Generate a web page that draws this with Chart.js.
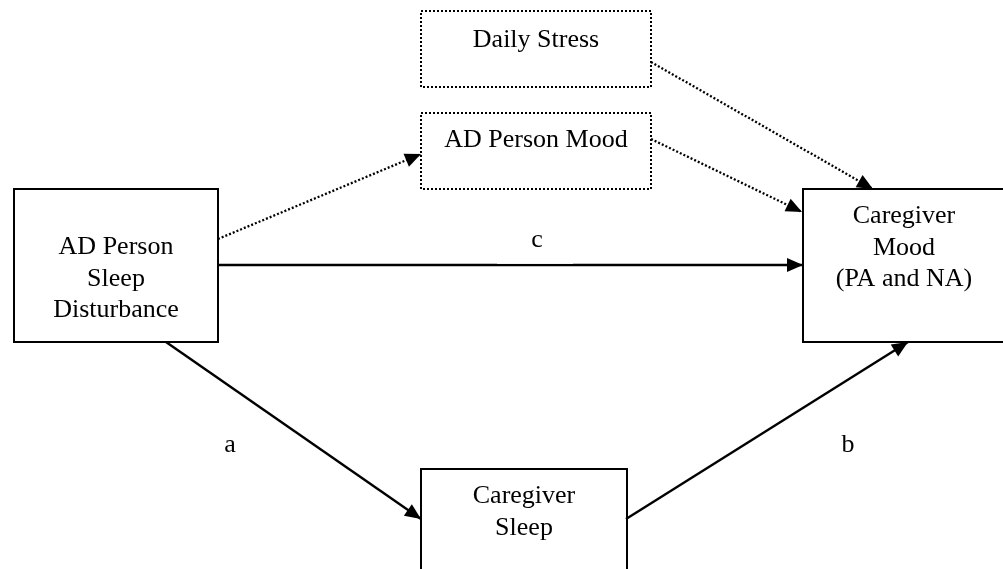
<!DOCTYPE html>
<html>
<head>
<meta charset="utf-8">
<script src="https://cdn.jsdelivr.net/npm/chart.js@4"></script>
<style>
  html, body { margin: 0; padding: 0; background: #fff; }
  #wrap { width: 1003px; height: 569px; position: relative; }
</style>
</head>
<body>
<div id="wrap"><canvas id="diagram"></canvas></div>
<script>
// nodes of the path diagram (page units = pixels of the original figure)
const nodeLines = [
  ["Daily Stress"],
  ["AD Person Mood"],
  ["AD Person", "Sleep", "Disturbance"],
  ["Caregiver", "Mood", "(PA and NA)"],
  ["Caregiver", "Sleep"],
];
const nodeLeft = [421, 421, 14, 803, 421];
const nodeTop = [11, 113, 189, 189, 469];
const nodeRight = [651, 651, 218, 1005, 627];
const nodeBottom = [87, 189, 342, 342, 600];
const nodeTextY = [47, 147, 254, 223, 503];
const nodeDotted = [true, true, false, false, false];

// paths between nodes
const edgeFrom = [[218, 239], [651, 139], [651, 62], [218, 265], [166, 342], [626, 519]];
const edgeTo = [[421, 154], [802, 212], [873, 189], [803, 265], [421, 519], [908, 342]];
const edgeDotted = [true, true, true, false, false, false];

// path labels
const pathLabels = ["c", "a", "b"];
const pathLabelX = [537, 230, 848];
const pathLabelY = [247, 452, 452];

const FONT = '26px "Liberation Serif", "Times New Roman", serif';
const LINE_H = 31.5;

const datasets = [];

nodeLines.forEach((lines, i) => {
  datasets.push({
    label: lines.join(" "),
    data: [
      { x: nodeLeft[i], y: nodeTop[i] },
      { x: nodeRight[i], y: nodeTop[i] },
      { x: nodeRight[i], y: nodeBottom[i] },
      { x: nodeLeft[i], y: nodeBottom[i] },
      { x: nodeLeft[i], y: nodeTop[i] },
    ],
    showLine: true,
    borderColor: "#000",
    borderWidth: 2,
    borderDash: nodeDotted[i] ? [2, 2] : [],
    borderCapStyle: nodeDotted[i] ? "butt" : "square",
    borderJoinStyle: "miter",
    pointRadius: 0,
    fill: false,
    tension: 0,
  });
});

edgeFrom.forEach((from, i) => {
  datasets.push({
    label: "edge" + i,
    data: [
      { x: from[0], y: from[1] },
      { x: edgeTo[i][0], y: edgeTo[i][1] },
    ],
    showLine: true,
    borderColor: "#000",
    borderWidth: edgeDotted[i] ? 2.3 : 2.4,
    borderDash: edgeDotted[i] ? [2, 2] : [],
    pointRadius: 0,
    fill: false,
    tension: 0,
  });
});

const diagramPlugin = {
  id: "diagram",
  afterDatasetsDraw(chart) {
    const ctx = chart.ctx;
    const xs = chart.scales.x;
    const ys = chart.scales.y;
    ctx.save();

    // white box behind the "c" label cuts into the path line a little
    ctx.fillStyle = "#fff";
    ctx.fillRect(xs.getPixelForValue(497), ys.getPixelForValue(261),
      xs.getPixelForValue(573) - xs.getPixelForValue(497), 2.8);

    // arrowheads
    ctx.fillStyle = "#000";
    edgeFrom.forEach((from, i) => {
      const x0 = xs.getPixelForValue(from[0]);
      const y0 = ys.getPixelForValue(from[1]);
      const x1 = xs.getPixelForValue(edgeTo[i][0]);
      const y1 = ys.getPixelForValue(edgeTo[i][1]);
      const ang = Math.atan2(y1 - y0, x1 - x0);
      const len = 16, half = 7;
      ctx.beginPath();
      ctx.moveTo(x1, y1);
      ctx.lineTo(x1 - len * Math.cos(ang) + half * Math.sin(ang),
                 y1 - len * Math.sin(ang) - half * Math.cos(ang));
      ctx.lineTo(x1 - len * Math.cos(ang) - half * Math.sin(ang),
                 y1 - len * Math.sin(ang) + half * Math.cos(ang));
      ctx.closePath();
      ctx.fill();
    });

    // text
    ctx.font = FONT;
    ctx.textAlign = "center";
    ctx.textBaseline = "alphabetic";
    nodeLines.forEach((lines, i) => {
      const cx = xs.getPixelForValue((nodeLeft[i] + nodeRight[i]) / 2);
      lines.forEach((t, j) => {
        ctx.fillText(t, cx, ys.getPixelForValue(nodeTextY[i] + j * LINE_H));
      });
    });
    pathLabels.forEach((t, i) => {
      ctx.fillText(t, xs.getPixelForValue(pathLabelX[i]), ys.getPixelForValue(pathLabelY[i]));
    });
    ctx.restore();
  },
};

new Chart(document.getElementById("diagram"), {
  type: "scatter",
  data: { datasets },
  options: {
    responsive: true,
    maintainAspectRatio: false,
    animation: false,
    layout: { padding: 0 },
    plugins: {
      legend: { display: false },
      tooltip: { enabled: false },
    },
    scales: {
      x: { type: "linear", min: 0, max: 1003, display: false },
      y: { type: "linear", min: 0, max: 569, reverse: true, display: false },
    },
  },
  plugins: [diagramPlugin],
});
</script>
</body>
</html>
